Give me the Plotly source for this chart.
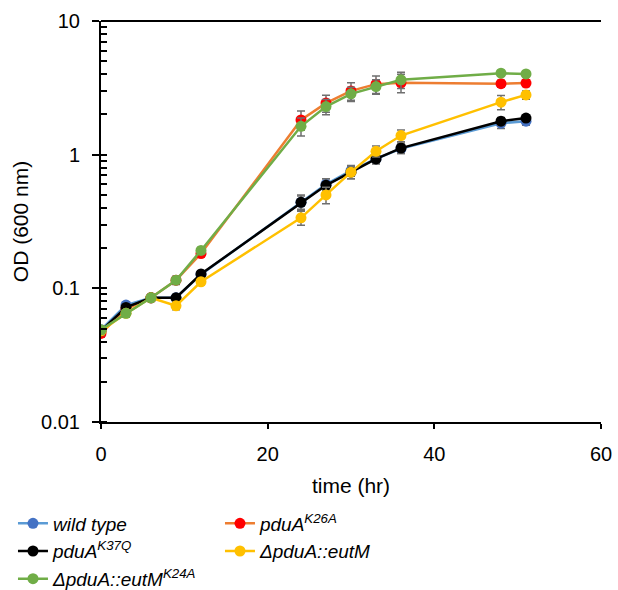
import plotly.graph_objects as go

time_hr = [0, 3, 6, 9, 12, 24, 27, 30, 33, 36, 48, 51]

wild_type = [0.049, 0.075, 0.085, 0.085, 0.127, 0.44, 0.60, 0.76, 0.93, 1.11, 1.72, 1.78]
wild_type_err = [0.003, 0.004, 0.004, 0.005, 0.006, 0.05, 0.06, 0.07, 0.07, 0.09, 0.15, 0.12]

pduA_K26A = [0.046, 0.070, 0.085, 0.115, 0.182, 1.82, 2.43, 3.0, 3.37, 3.45, 3.40, 3.43]
pduA_K26A_err = [0.003, 0.004, 0.004, 0.008, 0.010, 0.30, 0.35, 0.45, 0.50, 0.55, 0.20, 0.20]

pduA_K37Q = [0.048, 0.072, 0.085, 0.085, 0.128, 0.44, 0.59, 0.74, 0.93, 1.12, 1.78, 1.88]
pduA_K37Q_err = [0.003, 0.004, 0.004, 0.005, 0.006, 0.06, 0.07, 0.08, 0.08, 0.10, 0.12, 0.10]

eutM = [0.048, 0.065, 0.085, 0.074, 0.112, 0.337, 0.50, 0.74, 1.06, 1.39, 2.47, 2.80]
eutM_err = [0.003, 0.004, 0.004, 0.005, 0.006, 0.04, 0.07, 0.08, 0.10, 0.14, 0.30, 0.20]

eutM_K24A = [0.049, 0.065, 0.085, 0.115, 0.192, 1.63, 2.29, 2.85, 3.23, 3.63, 4.07, 4.02]
eutM_K24A_err = [0.003, 0.004, 0.004, 0.006, 0.010, 0.25, 0.30, 0.35, 0.40, 0.50, 0.15, 0.15]

y_tickvals = [0.01, 0.1, 1, 10]
y_ticktext = ["0.01", "0.1", "1", "10"]
x_tickvals = [0, 20, 40, 60]

series = [
    ("<i>wild type</i>", wild_type, wild_type_err, "#5B9BD5", "#4472C4"),
    ("<i>pduA<sup>K26A</sup></i>", pduA_K26A, pduA_K26A_err, "#ED7D31", "#FF0000"),
    ("<i>pduA<sup>K37Q</sup></i>", pduA_K37Q, pduA_K37Q_err, "#000000", "#000000"),
    ("<i>ΔpduA::eutM</i>", eutM, eutM_err, "#FFC000", "#FFC000"),
    ("<i>ΔpduA::eutM<sup>K24A</sup></i>", eutM_K24A, eutM_K24A_err, "#70AD47", "#70AD47"),
]

fig = go.Figure()
for name, y, err, lc, mc in series:
    fig.add_trace(go.Scatter(
        x=time_hr, y=y, name=name, mode="lines+markers",
        line=dict(color=lc, width=2.5),
        marker=dict(color=mc, size=11),
        error_y=dict(type="data", array=err, visible=True, color="#6f6f6f",
                     thickness=1.5, width=4),
    ))

font_family = "Liberation Sans, Arial, sans-serif"
fig.update_layout(
    width=618, height=590,
    margin=dict(l=101, r=17, t=21, b=168, autoexpand=False),
    paper_bgcolor="white", plot_bgcolor="white",
    font=dict(family=font_family, size=20, color="black"),
    showlegend=True,
    legend=dict(
        orientation="h", xref="container", yref="container",
        x=0.021, xanchor="left", y=0.145, yanchor="top",
        font=dict(size=19, family=font_family),
        entrywidth=162, entrywidthmode="pixels",
        tracegroupgap=0, itemwidth=30,
    ),
    xaxis=dict(
        range=[0, 60], tickvals=x_tickvals, ticks="outside", ticklen=5,
        tickwidth=2, tickcolor="black", ticklabelstandoff=8, automargin=False,
        showline=True, linecolor="black", linewidth=2, showgrid=False, zeroline=False,
        title=dict(text="time (hr)", font=dict(size=21), standoff=14),
        tickfont=dict(size=20),
    ),
    yaxis=dict(
        type="log", range=[-2, 1], tickvals=y_tickvals,
        ticktext=y_ticktext, ticks="outside", ticklen=7,
        tickwidth=2, tickcolor="black", ticklabelstandoff=8, automargin=False,
        showline=True, linecolor="black", linewidth=2, showgrid=False, zeroline=False,
        title=dict(text="OD (600 nm)", font=dict(size=21), standoff=7),
        tickfont=dict(size=20),
        minor=dict(ticks="inside", ticklen=6, tickwidth=2, tickcolor="black",
                   showgrid=False,
                   tickvals=[v * m for m in [0.01, 0.1, 1] for v in range(1, 11)]),
    ),
    yaxis2=dict(
        type="log", range=[-2, 1], overlaying="y", side="left", matches="y",
        tickvals=y_tickvals, ticks="inside", ticklen=7, tickwidth=2, tickcolor="black",
        showticklabels=False, showline=False, showgrid=False, zeroline=False,
        automargin=False,
    ),
    shapes=[dict(type="line", xref="paper", yref="paper", x0=0, x1=1, y0=1, y1=1,
                 line=dict(color="black", width=2))],
)

fig.write_html("out.html")
